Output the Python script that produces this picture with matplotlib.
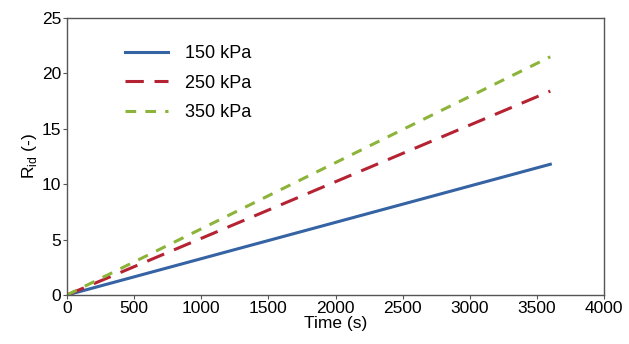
import matplotlib
matplotlib.use('Agg')
import matplotlib.pyplot as plt

plt.rcParams['font.family'] = ['Liberation Sans', 'DejaVu Sans']

# data (linear growth from zero)
time_s = [0, 3600]
r_150 = [0, 11.8]
r_250 = [0, 18.4]
r_350 = [0, 21.5]
labels = ['150 kPa', '250 kPa', '350 kPa']

fig = plt.figure(figsize=(6.29, 3.44), dpi=100)
ax = fig.add_axes([67 / 629, 1 - 295 / 344, (604 - 67) / 629, (295 - 18) / 344])

ax.plot(time_s, r_150, color='#3563a4', lw=2.2, label=labels[0])
ax.plot(time_s, r_250, color='#b52332', lw=2.2, dashes=(6, 3.5), label=labels[1])
ax.plot(time_s, r_350, color='#8db43a', lw=2.2, dashes=(3.5, 3), label=labels[2])

ax.set_xlim(0, 4000)
ax.set_ylim(0, 25)
ax.set_xticks(range(0, 4001, 500))
ax.set_yticks(range(0, 26, 5))
ax.tick_params(labelsize=12.5, length=3, width=0.8, color='#555555', pad=1)
for s in ax.spines.values():
    s.set_color('#555555')
    s.set_linewidth(1.0)

ax.set_xlabel('Time (s)', fontsize=12.5, labelpad=0)
ax.set_ylabel('R$_{\\mathregular{id}}$ (-)', fontsize=12.5, labelpad=2)

ax.legend(loc='upper left', bbox_to_anchor=(0.078, 0.96), frameon=False,
          fontsize=13, handlelength=2.4, handletextpad=0.9, labelspacing=0.68)

plt.savefig('out.png', dpi=100)
